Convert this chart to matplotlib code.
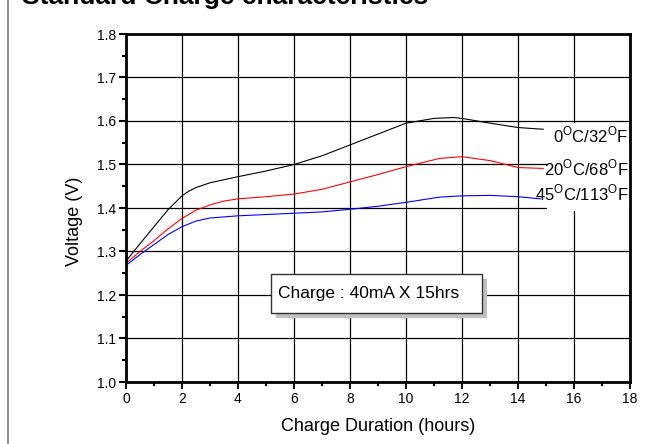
import matplotlib
matplotlib.use("Agg")
import matplotlib.pyplot as plt
from matplotlib.patches import Rectangle
from matplotlib.ticker import MultipleLocator

plt.rcParams['font.family'] = ['Liberation Sans', 'DejaVu Sans']
plt.rcParams['mathtext.fontset'] = 'custom'
plt.rcParams['mathtext.rm'] = 'Liberation Sans'

# ---- data ----
hours_0c = [0, 0.5, 1.0, 1.5, 2.0, 2.25, 2.5, 3.0, 4.0, 5.0, 6.0, 7.0, 8.0, 9.0, 10.0, 11.0, 11.7, 12.0, 13.0, 14.0, 14.9]
volt_0c = [1.278, 1.318, 1.357, 1.396, 1.428, 1.439, 1.447, 1.458, 1.472, 1.485, 1.500, 1.520, 1.545, 1.570, 1.595, 1.606, 1.608, 1.606, 1.595, 1.585, 1.581]

hours_20c = [0, 0.5, 1.0, 1.5, 2.0, 2.5, 3.0, 3.5, 4.0, 5.0, 6.0, 7.0, 8.0, 9.0, 10.0, 11.2, 12.0, 13.0, 14.0, 14.9]
volt_20c = [1.273, 1.300, 1.325, 1.352, 1.376, 1.395, 1.407, 1.416, 1.421, 1.426, 1.432, 1.443, 1.460, 1.477, 1.495, 1.514, 1.518, 1.509, 1.493, 1.491]

hours_45c = [0, 0.5, 1.0, 1.5, 2.0, 2.5, 3.0, 4.0, 5.0, 6.0, 7.0, 8.0, 9.0, 10.0, 11.2, 12.0, 13.0, 14.0, 14.8]
volt_45c = [1.268, 1.293, 1.316, 1.339, 1.357, 1.370, 1.377, 1.382, 1.385, 1.388, 1.391, 1.397, 1.404, 1.413, 1.425, 1.428, 1.429, 1.426, 1.421]

series_labels = [r'0$^{\mathrm{O}}$C/32$^{\mathrm{O}}$F',
                 r'20$^{\mathrm{O}}$C/68$^{\mathrm{O}}$F',
                 r'45$^{\mathrm{O}}$C/113$^{\mathrm{O}}$F']
label_voltages = [1.568, 1.492, 1.434]
series_colors = ['black', 'red', 'blue']

x_ticks = [0, 2, 4, 6, 8, 10, 12, 14, 16, 18]
y_ticks = [1.0, 1.1, 1.2, 1.3, 1.4, 1.5, 1.6, 1.7, 1.8]
title_text = 'Standard Charge characteristics'
note_text = 'Charge : 40mA X 15hrs'

# ---- figure ----
fig = plt.figure(figsize=(6.68, 4.44), dpi=100)
ax = fig.add_axes([126/668, 1-382/444, 504/668, 348/444])

# outer frame & title (title is partly cut off at the top, as in the reference)
fig.patches.append(Rectangle((8/668, -0.2), 1.2, 1.2 + (1-13/444), transform=fig.transFigure,
                             fill=False, edgecolor='#8a8a8a', linewidth=1.4))
fig.text(22/668, 1-4/444, title_text, fontsize=19, fontweight='bold', ha='left', va='baseline')

for xs, ys, c in zip([hours_0c, hours_20c, hours_45c], [volt_0c, volt_20c, volt_45c], series_colors):
    ax.plot(xs, ys, color=c, linewidth=0.8, zorder=5)

# white label area (hides the grid behind the series labels)
ax.add_patch(Rectangle(((547-126)/504, (382-211)/348), 1 - (547-126)/504, (211-123)/348,
                       transform=ax.transAxes, facecolor='white', edgecolor='none', zorder=3))
for lab, v in zip(series_labels, label_voltages):
    ax.text(17.95, v, lab, fontsize=12, ha='right', va='center', zorder=4)

ax.set_xlim(0, 18)
ax.set_ylim(1.0, 1.8)
ax.set_xticks(x_ticks)
ax.set_yticks(y_ticks)
ax.set_xticklabels([str(t) for t in x_ticks])
ax.set_yticklabels(['%.1f' % t for t in y_ticks])
ax.xaxis.set_minor_locator(MultipleLocator(1))
ax.yaxis.set_minor_locator(MultipleLocator(0.05))
ax.grid(True, which='major', color='black', linewidth=0.9, zorder=1)
ax.set_axisbelow(True)
for s in ax.spines.values():
    s.set_linewidth(2)
    s.set_zorder(8)
ax.tick_params(which='major', direction='out', length=5, width=1.5, labelsize=10, pad=2)
ax.tick_params(which='minor', direction='out', length=3, width=1.5)

ax.set_xlabel('Charge Duration (hours)', fontsize=13, labelpad=9)
ax.set_ylabel('Voltage (V)', fontsize=13)
ax.yaxis.set_label_coords((83-126)/504, (382-221)/348)

# note box with shadow
x0, x1 = (271-126)/504, (482-126)/504
y0, y1 = (382-313)/348, (382-274)/348
dx, dy = 5/504, 5/348
ax.add_patch(Rectangle((x0+dx, y0-dy), x1-x0, y1-y0, transform=ax.transAxes,
                       facecolor='#c0c0c0', edgecolor='none', zorder=6))
ax.add_patch(Rectangle((x0, y0), x1-x0, y1-y0, transform=ax.transAxes,
                       facecolor='white', edgecolor='#333333', linewidth=1.0, zorder=7))
ax.text((278-126)/504, (y0+y1)/2, note_text, transform=ax.transAxes, fontsize=12.5,
        ha='left', va='center', zorder=7.5)

fig.savefig('out.png', dpi=100)
